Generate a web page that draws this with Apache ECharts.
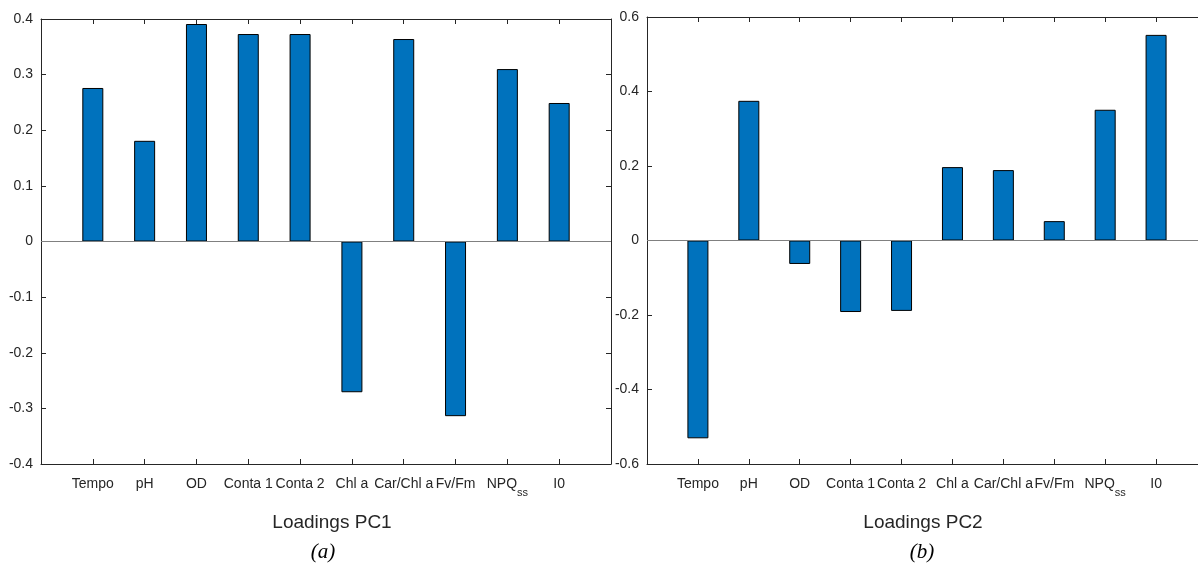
<!DOCTYPE html>
<html><head><meta charset="utf-8">
<script src="https://cdn.jsdelivr.net/npm/echarts@6/dist/echarts.min.js"></script>
<style>html,body{margin:0;padding:0;background:#fff;overflow:hidden}#c{width:1210px;height:565px}</style>
</head><body><div id="c"></div>
<script>
const categories = ['Tempo','pH','OD','Conta 1','Conta 2','Chl a','Car/Chl a','Fv/Fm','NPQss','I0'];
const pc1 = [0.276, 0.181, 0.391, 0.373, 0.373, -0.271, 0.364, -0.314, 0.310, 0.249];
const pc2 = [-0.531, 0.375, -0.063, -0.192, -0.189, 0.197, 0.189, 0.052, 0.351, 0.552];
const pc1Ticks = {min: -0.4, max: 0.4, interval: 0.1};
const pc2Ticks = {min: -0.6, max: 0.6, interval: 0.2};

const FONT = '"Liberation Sans",Arial,sans-serif';
const AX = '#262626';

function catLabel(v){
  const i = Math.round(v) - 1;
  if (i < 0 || i >= categories.length || Math.abs(v - Math.round(v)) > 1e-6) return '';
  const c = categories[i];
  if (c === 'NPQss') return '{m|NPQ}{s|ss}';
  return '{m|' + c + '}';
}

function makeAxes(gi, ticks){
  const xBottom = {
    type: 'value', gridIndex: gi, min: 0, max: 11, interval: 1, position: 'bottom',
    axisLine: {show: true, onZero: false, lineStyle: {color: AX, width: 1}},
    axisTick: {show: true, inside: true, length: 5, lineStyle: {color: AX}},
    splitLine: {show: false},
    axisLabel: {margin: 12, formatter: catLabel, color: AX,
      rich: {m: {fontFamily: FONT, fontSize: 14, color: AX, lineHeight: 16},
             s: {fontFamily: FONT, fontSize: 11, color: AX, padding: [17, 0, 0, 0], lineHeight: 16}}}
  };
  const xTop = {
    type: 'value', gridIndex: gi, min: 0, max: 11, interval: 1, position: 'top',
    axisLine: {show: true, onZero: false, lineStyle: {color: AX, width: 1}},
    axisTick: {show: true, inside: true, length: 5, lineStyle: {color: AX}},
    splitLine: {show: false}, axisLabel: {show: false}
  };
  const yLeft = {
    type: 'value', gridIndex: gi, min: ticks.min, max: ticks.max, interval: ticks.interval, position: 'left',
    axisLine: {show: true, onZero: false, lineStyle: {color: AX, width: 1}},
    axisTick: {show: true, inside: true, length: 5, lineStyle: {color: AX}},
    splitLine: {show: false},
    axisLabel: {margin: 8, color: AX, fontFamily: FONT, fontSize: 14,
      formatter: v => String(Math.round(v * 10) / 10)}
  };
  const yRight = {
    type: 'value', gridIndex: gi, min: ticks.min, max: ticks.max, interval: ticks.interval, position: 'right',
    axisLine: {show: true, onZero: false, lineStyle: {color: AX, width: 1}},
    axisTick: {show: true, inside: true, length: 5, lineStyle: {color: AX}},
    splitLine: {show: false}, axisLabel: {show: false}
  };
  return {x: [xBottom, xTop], y: [yLeft, yRight]};
}

const a1 = makeAxes(0, pc1Ticks);
const a2 = makeAxes(1, pc2Ticks);

function barSeries(xi, yi, vals, w){
  return {
    type: 'bar', xAxisIndex: xi, yAxisIndex: yi, barWidth: w,
    data: vals.map((v, i) => [i + 1, v]),
    itemStyle: {color: '#0072BD', borderColor: '#000', borderWidth: 1},
    silent: true,
    markLine: {silent: true, symbol: ['none','none'], label: {show: false},
      lineStyle: {color: '#808080', width: 1, type: 'solid'}, data: [{yAxis: 0}]}
  };
}

const option = {
  animation: false,
  backgroundColor: '#fff',
  grid: [
    {left: 41, top: 19, right: 599, bottom: 101, containLabel: false},
    {left: 647, top: 17, right: 3, bottom: 101, containLabel: false}
  ],
  xAxis: [a1.x[0], a1.x[1], a2.x[0], a2.x[1]],
  yAxis: [a1.y[0], a1.y[1], a2.y[0], a2.y[1]],
  title: [
    {text: 'Loadings PC1', left: 327, top: 508, textAlign: 'center',
     textStyle: {fontFamily: FONT, fontSize: 19, fontWeight: 'normal', color: AX}},
    {text: '(a)', left: 318, top: 537, textAlign: 'center',
     textStyle: {fontFamily: '"Liberation Serif","Times New Roman",serif', fontStyle: 'italic', fontSize: 21, fontWeight: 'normal', color: '#000'}},
    {text: 'Loadings PC2', left: 918, top: 508, textAlign: 'center',
     textStyle: {fontFamily: FONT, fontSize: 19, fontWeight: 'normal', color: AX}},
    {text: '(b)', left: 917, top: 537, textAlign: 'center',
     textStyle: {fontFamily: '"Liberation Serif","Times New Roman",serif', fontStyle: 'italic', fontSize: 21, fontWeight: 'normal', color: '#000'}}
  ],
  series: [
    barSeries(0, 0, pc1, 21),
    barSeries(2, 2, pc2, 21)
  ]
};
const chart = echarts.init(document.getElementById('c'), null, {renderer: 'canvas'});
chart.setOption(option);
</script>
</body></html>
